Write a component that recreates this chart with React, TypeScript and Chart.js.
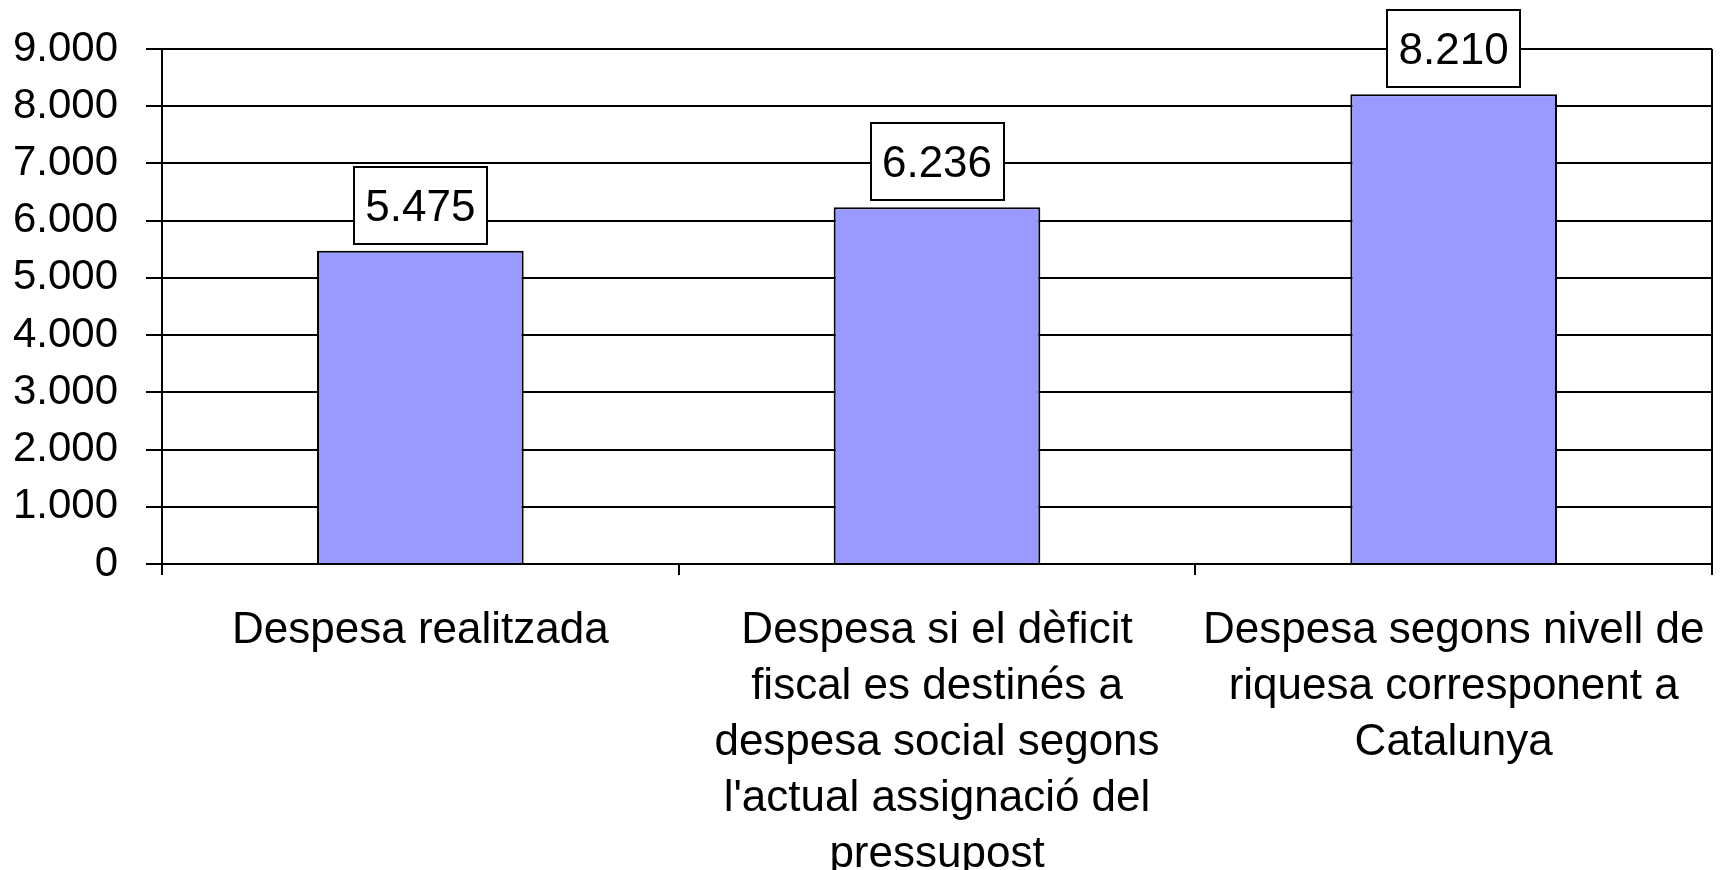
import React, { useEffect, useRef } from "react";
import { Chart, registerables } from "chart.js";

Chart.register(...registerables);

const categories: (string | string[])[] = [
  "Despesa realitzada",
  ["Despesa si el dèficit", "fiscal es destinés a", "despesa social segons", "l'actual assignació del", "pressupost"],
  ["Despesa segons nivell de", "riquesa corresponent a", "Catalunya"],
];
const values: number[] = [5475, 6236, 8210];
const yMin = 0;
const yMax = 9000;
const yStep = 1000;

const FONT = '"Liberation Sans", Arial, sans-serif';

function fmt(v: number): string {
  const s = Math.round(v).toString();
  return s.replace(/\B(?=(\d{3})+(?!\d))/g, ".");
}

const labelPlugin = {
  id: "boxLabels",
  afterDatasetsDraw(chart: any) {
    const ctx = chart.ctx;
    const area = chart.chartArea;
    ctx.save();
    // right border of plot area
    ctx.strokeStyle = "#000";
    ctx.lineWidth = 2;
    ctx.beginPath();
    ctx.moveTo(area.right, area.top);
    ctx.lineTo(area.right, area.bottom);
    ctx.stroke();

    const meta = chart.getDatasetMeta(0);
    ctx.font = `44px ${FONT}`;
    ctx.textAlign = "center";
    ctx.textBaseline = "middle";
    meta.data.forEach((bar: any, i: number) => {
      const text = fmt(values[i]);
      const w = Math.round(ctx.measureText(text).width + 23);
      const h = 77;
      const bottom = Math.round(bar.y - 7);
      const top = bottom - h;
      const left = Math.round(bar.x - w / 2);
      ctx.fillStyle = "#fff";
      ctx.fillRect(left, top, w, h);
      ctx.strokeStyle = "#000";
      ctx.lineWidth = 2;
      ctx.strokeRect(left, top, w, h);
      ctx.fillStyle = "#000";
      ctx.fillText(text, bar.x, top + h / 2 + 3);
    });
    ctx.restore();
  },
};

export default function App() {
  const ref = useRef<HTMLCanvasElement | null>(null);
  useEffect(() => {
    if (!ref.current) return;
    const chart = new Chart(ref.current, {
      type: "bar",
      data: {
        labels: categories as any,
        datasets: [
          {
            data: values,
            backgroundColor: "#9999FF",
            borderColor: "#000",
            borderWidth: 2,
            barPercentage: 0.4,
            categoryPercentage: 1.0,
          },
        ],
      },
      options: {
        animation: false,
        responsive: true,
        maintainAspectRatio: false,
        layout: { padding: { top: 49, right: 9, bottom: 0, left: 0 } },
        plugins: { legend: { display: false }, tooltip: { enabled: false } },
        scales: {
          x: {
            grid: {
              offset: true,
              drawOnChartArea: false,
              drawTicks: true,
              tickLength: 11,
              color: "#000",
              lineWidth: 2,
            },
            border: { color: "#000", width: 2 },
            ticks: {
              font: { family: FONT, size: 44, lineHeight: 1.27 },
              color: "#000",
              maxRotation: 0,
              minRotation: 0,
              autoSkip: false,
              padding: 28,
            },
            afterFit(scale: any) {
              scale.height = 306;
              scale.paddingLeft = 0;
              scale.paddingRight = 0;
              scale.paddingTop = 0;
              scale.paddingBottom = 0;
            },
          },
          y: {
            min: yMin,
            max: yMax,
            grid: {
              color: "#000",
              lineWidth: 2,
              tickLength: 16,
              drawTicks: true,
            },
            border: { color: "#000", width: 2 },
            ticks: {
              stepSize: yStep,
              font: { family: FONT, size: 42 },
              color: "#000",
              padding: 28,
              callback: (v: any) => fmt(Number(v)),
            },
            afterFit(scale: any) {
              scale.width = 162;
              scale.paddingTop = 0;
              scale.paddingBottom = 0;
            },
          },
        },
      },
      plugins: [labelPlugin],
    });
    return () => chart.destroy();
  }, []);
  return (
    <div style={{ position: "absolute", left: 0, top: 0, width: 1721, height: 870, background: "#fff" }}>
      <canvas ref={ref} />
    </div>
  );
}
